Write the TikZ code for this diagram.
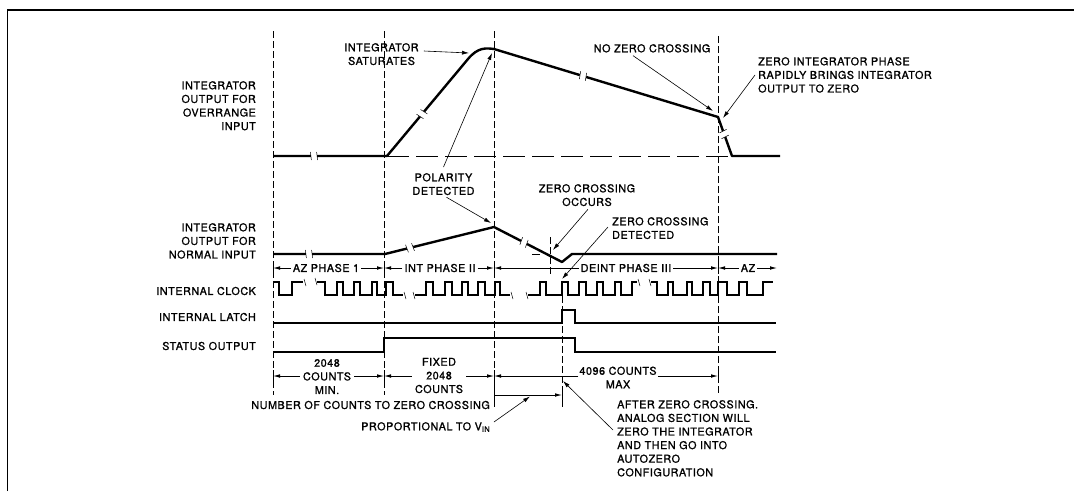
\documentclass[tikz,border=0pt]{standalone}
\usepackage{fontspec}
\setmainfont{TeX Gyre Heros}[LetterSpace=5,FakeBold=1.2]
\usetikzlibrary{arrows.meta}
\begin{document}
\begin{tikzpicture}[x=1pt,y=-1pt,
  lbl/.style={inner sep=0pt, font=\fontsize{10.8}{13.6}\selectfont},
  wave/.style={line width=2.4pt, line join=round},
  clkw/.style={line width=2pt},
  vdash/.style={line width=0.9pt, dash pattern=on 7pt off 3pt},
  hdash/.style={line width=0.9pt, dash pattern=on 22pt off 7pt},
  note/.style={line width=0.6pt, -{Latex[length=7pt,width=4pt]}},
  dim/.style={line width=0.8pt, -{Latex[length=7pt,width=3.6pt]}},
  bar/.style={line width=0.9pt},
  tick/.style={line width=0.5pt},
  brk/.pic={\fill[white] (-3.2,-4.5) rectangle (3.2,4.5);
            \draw[line width=0.5pt] (-3.6,-4) -- (-2.6,4);
            \draw[line width=0.5pt] (2.6,-4) -- (3.6,4);}
]
\useasboundingbox (0,0) rectangle (1074,491);
% frame
\draw[line width=1.3pt] (7.5,491) -- (7.5,10) -- (1074,10);

% dashed guide lines
\draw[vdash] (273,31) -- (273,395);
\draw[vdash] (384,31) -- (384,395);
\draw[vdash] (494,31) -- (494,407);
\draw[vdash] (718,36) -- (718,395);
\draw[vdash] (550,237) -- (550,276);
\draw[vdash] (562,296) -- (562,407);
\draw[hdash] (387,156) -- (733,156);
\draw[line width=0.9pt] (532,254) -- (540,254);

% overrange waveform
\draw[wave] (273,156) -- (387,156) -- (468,59) .. controls (478,47) and (486,48) .. (494,49) -- (718,117) -- (732,156) -- (780,156);
\pic at (314,156) {brk};
\pic[rotate=50.1] at (422,114.1) {brk};
\pic[rotate=-16.9] at (583,76) {brk};
\pic[rotate=-70.2] at (724.1,134) {brk};

% normal waveform
\draw[wave] (273,254) -- (385,254) -- (494,227) -- (562,262) -- (572,254) -- (777,254);
\pic at (309,254) {brk};
\pic[rotate=13.9] at (410,247.8) {brk};
\pic[rotate=-27.2] at (524,242.4) {brk};

% clock
\draw[clkw] (273,282) -- (279,282) -- (279,295) -- (292,295) -- (292,282) -- (303,282);
\draw[clkw] (317,282) -- (325,282) -- (325,295) -- (337,295) -- (337,282) -- (343,282) -- (343,295) -- (354,295) -- (354,282) -- (360,282) -- (360,295) -- (372,295) -- (372,282) -- (377,282) -- (377,295) -- (386,295) -- (386,282) -- (393,282) -- (393,295) -- (403,295);
\draw[clkw] (415,295) -- (426,295) -- (426,282) -- (433,282) -- (433,295) -- (445,295) -- (445,282) -- (452,282) -- (452,295) -- (462,295) -- (462,282) -- (468,282) -- (468,295) -- (478,295) -- (478,282) -- (485,282) -- (485,295) -- (495,295) -- (495,282) -- (500,282) -- (500,295) -- (510,295);
\draw[clkw] (528,295) -- (540,295) -- (540,282) -- (546,282) -- (546,295) -- (562,295) -- (562,282) -- (568,282) -- (568,295) -- (579,295) -- (579,282) -- (586,282) -- (586,295) -- (597,295) -- (597,282) -- (603,282) -- (603,295) -- (615,295) -- (615,282) -- (621,282) -- (621,295) -- (632,295) -- (632,282) -- (637,282);
\draw[clkw] (651,282) -- (657,282) -- (657,295) -- (668,295) -- (668,282) -- (673,282) -- (673,295) -- (687,295) -- (687,282) -- (692,282) -- (692,295) -- (703,295) -- (703,282) -- (710,282) -- (710,295) -- (718,295) -- (718,282) -- (727,282) -- (727,295) -- (739,295) -- (739,282) -- (747,282) -- (747,295) -- (763,295) -- (763,282) -- (773,282);
\draw[tick] (304,279) -- (306,286);
\draw[tick] (315,278) -- (317,285);
\draw[tick] (404,292) -- (406,299);
\draw[tick] (413,292) -- (415,299);
\draw[tick] (511,292) -- (513,299);
\draw[tick] (526,292) -- (528,299);
\draw[tick] (638,279) -- (640,286);
\draw[tick] (649,279) -- (651,286);

% latch and status
\draw[clkw] (273,323) -- (562,323) -- (562,310) -- (575,310) -- (575,323) -- (776,323);
\draw[clkw] (273,352) -- (384,352) -- (384,338) -- (575,338) -- (575,352) -- (776,352);

% left labels
\node[lbl, anchor=north east, align=right] (ovr) at (256,81) {INTEGRATOR\\OUTPUT FOR\\OVERRANGE\\INPUT};
\node[lbl, anchor=north east, align=right] (nrm) at (256,223) {INTEGRATOR\\OUTPUT FOR\\NORMAL INPUT};
\node[lbl, anchor=east] (clk) at (256,291) {INTERNAL CLOCK};
\node[lbl, anchor=east] (lat) at (256,317) {INTERNAL LATCH};
\node[lbl, anchor=east] (sta) at (256,346) {STATUS OUTPUT};

% phase row
\coordinate (b1) at (273,268);
\coordinate (b2) at (384,268);
\coordinate (b3) at (494,268);
\coordinate (b5) at (718,268);
\coordinate (b6) at (777,268);
\node[lbl] (p1) at (326,268) {AZ PHASE 1};
\node[lbl] (p2) at (440,268) {INT PHASE II};
\node[lbl] (p3) at (626,268) {DEINT PHASE III};
\node[lbl] (p4) at (748,268) {AZ};
\draw[dim] ([xshift=-2pt]p1.west) -- (b1);
\draw[dim] ([xshift=2pt]p1.east) -- (b2);
\draw[dim] ([xshift=-2pt]p2.west) -- (b2);
\draw[dim] ([xshift=2pt]p2.east) -- (b3);
\draw[dim] ([xshift=-2pt]p3.west) -- (b3);
\draw[dim] ([xshift=2pt]p3.east) -- (b5);
\draw[dim] ([xshift=-2pt]p4.west) -- (b5);
\draw[dim] ([xshift=2pt]p4.east) -- (b6);
\foreach \x in {273,384,494,718} \draw[bar] (\x,262) -- (\x,274);

% counts row
\coordinate (k1) at (273,376);
\coordinate (k2) at (384,376);
\coordinate (k3) at (494,376);
\coordinate (k5) at (718,376);
\node[lbl, align=center] (c1) at (327,376.5) {2048\\COUNTS\\MIN.};
\node[lbl, align=center] (c2) at (439,375.5) {FIXED\\2048\\COUNTS};
\node[lbl, align=center] (c3) at (618,377.5) {4096 COUNTS\\MAX};
\draw[dim] ([xshift=-3pt]c1.west |- k1) -- (k1);
\draw[dim] ([xshift=3pt]c1.east |- k2) -- (k2);
\draw[dim] ([xshift=-3pt]c2.west |- k2) -- (k2);
\draw[dim] ([xshift=3pt]c2.east |- k3) -- (k3);
\draw[dim] ([xshift=-1pt]c3.west |- k3) -- (k3);
\draw[dim] ([xshift=1pt]c3.east |- k5) -- (k5);
\foreach \x in {273,384,494,718} \draw[bar] (\x,370) -- (\x,382);

% number of counts bracket
\node[lbl, anchor=east] (num) at (490,405) {NUMBER OF COUNTS TO ZERO CROSSING};
\coordinate (q0) at (494,395);
\coordinate (q1) at (562,395);
\draw[dim] (q0) -- (q1);
\draw[bar] (494,388) -- (494,407);
\draw[bar] (562,388) -- (562,407);
\node[lbl] (prop) at (425.5,427) {PROPORTIONAL TO V\raisebox{-1.5pt}{\fontsize{7.5}{8}\selectfont IN}};
\coordinate (pt1) at (530,396.5);
\draw[note] ([xshift=4pt,yshift=5pt]prop.east) -- (pt1);

\node[lbl, anchor=north west, align=left] (aft) at (617,400) {AFTER ZERO CROSSING.\\ANALOG SECTION WILL\\ZERO THE INTEGRATOR\\AND THEN GO INTO\\AUTOZERO\\CONFIGURATION};
\coordinate (az1) at (563,381);
\draw[note] ([xshift=-4pt,yshift=-30pt]aft.north west) -- (az1);

% top notes
\node[lbl, align=center, anchor=north] (sat) at (381.5,43) {INTEGRATOR\\SATURATES};
\coordinate (sat1) at (469,53);
\draw[note] ([xshift=5pt,yshift=-8pt]sat.north east) -- (sat1);

\node[lbl, align=center, anchor=north] (pol) at (443.5,173) {POLARITY\\DETECTED};
\coordinate (pk) at (492,53);
\coordinate (npk) at (491,223);
\draw[note] ([yshift=6pt]pol.north) -- (pk);
\draw[note] ([xshift=3pt,yshift=-2pt]pol.south) -- (npk);

\node[lbl, anchor=north] (nzc) at (652,44) {NO ZERO CROSSING};
\coordinate (nz1) at (713,111);
\draw[note] ([xshift=-19pt,yshift=-3pt]nzc.south) -- (nz1);

\node[lbl, anchor=north west, align=left] (zip) at (758,57) {ZERO INTEGRATOR PHASE\\RAPIDLY BRINGS INTEGRATOR\\OUTPUT TO ZERO};
\coordinate (zi1) at (723,118);
\draw[note] ([xshift=-3pt,yshift=-18pt]zip.north west) -- (zi1);

\node[lbl, align=center, anchor=north] (zco) at (587,184) {ZERO CROSSING\\OCCURS};
\coordinate (zc1) at (553,250);
\draw[note] ([xshift=1pt,yshift=-3pt]zco.south) -- (zc1);

\node[lbl, anchor=north west, align=left] (zcd) at (612,217) {ZERO CROSSING\\DETECTED};
\coordinate (zd1) at (562,279);
\draw[note] ([xshift=-4pt,yshift=-10pt]zcd.north west) -- (zd1);
\end{tikzpicture}
\end{document}
